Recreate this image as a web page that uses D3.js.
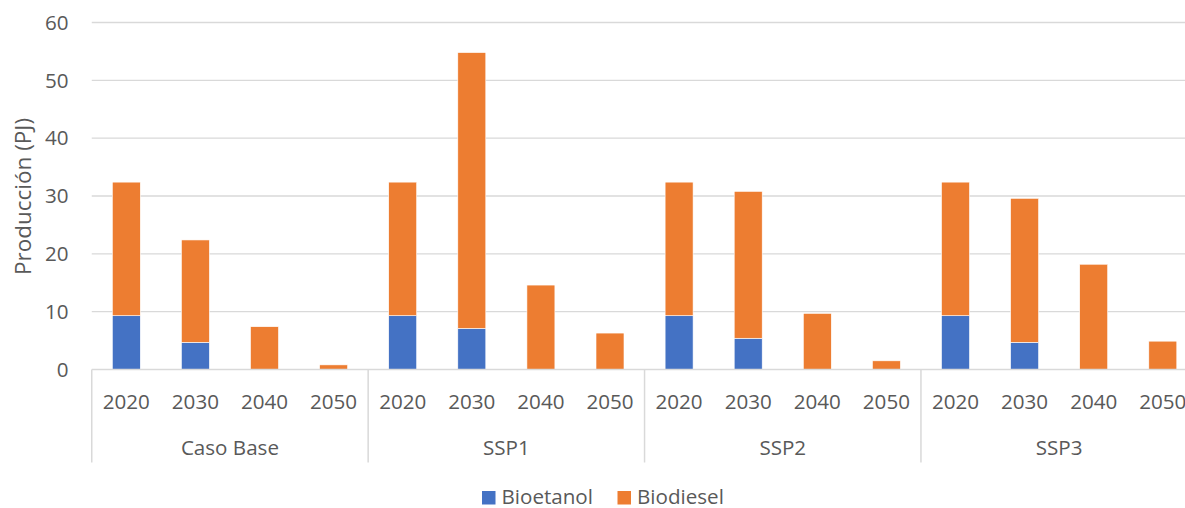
<!DOCTYPE html>
<html>
<head>
<meta charset="utf-8">
<script src="https://cdn.jsdelivr.net/npm/d3@7"></script>
<style>
  html, body { margin: 0; padding: 0; background: #fff; overflow: hidden; }
  svg { display: block; font-family: "Open Sans", "Noto Sans", sans-serif; }
</style>
</head>
<body>
<svg id="chart" width="1185" height="508"></svg>
<script>
// Scenarios and years along the two-level category axis
const scenarios = ["Caso Base", "SSP1", "SSP2", "SSP3"];
const years = ["2020", "2030", "2040", "2050"];

// Production (PJ) per scenario/year, in scenario order then year order
const bioetanol = [9.3, 4.7, 0, 0,   9.3, 7.1, 0, 0,   9.3, 5.4, 0, 0,   9.3, 4.7, 0, 0];
const biodiesel = [23.1, 17.7, 7.4, 0.8,   23.1, 47.7, 14.6, 6.3,   23.1, 25.4, 9.7, 1.5,   23.1, 24.9, 18.2, 4.9];

const seriesNames = ["Bioetanol", "Biodiesel"];
const seriesColors = ["#4472C4", "#ED7D31"];
const yTicks = [0, 10, 20, 30, 40, 50, 60];

const rows = [];
scenarios.forEach((s, i) => years.forEach((yr, j) => {
  const k = i * years.length + j;
  rows.push({ key: s + "|" + yr, scenario: s, year: yr, Bioetanol: bioetanol[k], Biodiesel: biodiesel[k] });
}));

const svg = d3.select("#chart");
const plotLeft = 91.75, plotRight = 1197.35, plotTop = 22.5, plotBottom = 369.5;

const x = d3.scaleBand().domain(rows.map(d => d.key))
  .range([plotLeft, plotRight]).paddingInner(0.595).paddingOuter(0.2975);
const y = d3.scaleLinear().domain([0, 60]).range([plotBottom, plotTop]);

const textColor = "#595959";
const gridColor = "#D9D9D9";
const labelSize = 20.6;

// Horizontal gridlines
svg.append("g").selectAll("line").data(yTicks.filter(t => t > 0)).join("line")
  .attr("x1", plotLeft).attr("x2", plotRight)
  .attr("y1", d => y(d)).attr("y2", d => y(d))
  .attr("stroke", gridColor).attr("stroke-width", 1.3);

// Y tick labels
svg.append("g").selectAll("text").data(yTicks).join("text")
  .attr("x", 68.5).attr("y", d => y(d)).attr("dy", "0.35em")
  .attr("text-anchor", "end").attr("fill", textColor).attr("font-size", labelSize)
  .text(d => d);

// Y axis title
svg.append("text")
  .attr("transform", "translate(30.5,196.5) rotate(-90)")
  .attr("text-anchor", "middle").attr("fill", textColor).attr("font-size", 22.5)
  .text("Producción (PJ)");

// Stacked bars
const stack = d3.stack().keys(seriesNames)(rows);
svg.append("g").selectAll("g").data(stack).join("g")
  .attr("fill", (d, i) => seriesColors[i])
  .selectAll("rect").data(d => d.filter(p => p[1] - p[0] > 0)).join("rect")
  .attr("x", d => x(d.data.key))
  .attr("width", x.bandwidth())
  .attr("y", d => y(d[1]))
  .attr("height", d => y(d[0]) - y(d[1]))
  .attr("stroke", "#fff").attr("stroke-width", 0.6);

// Category axis baseline
svg.append("line").attr("x1", plotLeft).attr("x2", plotRight)
  .attr("y1", plotBottom).attr("y2", plotBottom)
  .attr("stroke", gridColor).attr("stroke-width", 1.5);

// Group separators
const step = x.step();
const sepX = d3.range(scenarios.length + 1).map(i => plotLeft + i * years.length * step);
svg.append("g").selectAll("line").data(sepX).join("line")
  .attr("x1", d => d).attr("x2", d => d)
  .attr("y1", plotBottom).attr("y2", 462.5)
  .attr("stroke", gridColor).attr("stroke-width", 1.5);

// Year labels
svg.append("g").selectAll("text").data(rows).join("text")
  .attr("x", d => x(d.key) + x.bandwidth() / 2).attr("y", 409)
  .attr("text-anchor", "middle").attr("fill", textColor).attr("font-size", labelSize)
  .text(d => d.year);

// Scenario labels
svg.append("g").selectAll("text").data(scenarios).join("text")
  .attr("x", (d, i) => plotLeft + (i + 0.5) * years.length * step).attr("y", 455)
  .attr("text-anchor", "middle").attr("fill", textColor).attr("font-size", labelSize)
  .text(d => d);

// Legend
const legendItems = [{ name: seriesNames[0], color: seriesColors[0], x: 482 },
                     { name: seriesNames[1], color: seriesColors[1], x: 617.5 }];
const lg = svg.append("g").selectAll("g").data(legendItems).join("g")
  .attr("transform", d => `translate(${d.x},0)`);
lg.append("rect").attr("x", 0).attr("y", 491).attr("width", 13.5).attr("height", 13.5)
  .attr("fill", d => d.color);
lg.append("text").attr("x", 19.5).attr("y", 503.5)
  .attr("fill", textColor).attr("font-size", labelSize)
  .text(d => d.name);
</script>
</body>
</html>
